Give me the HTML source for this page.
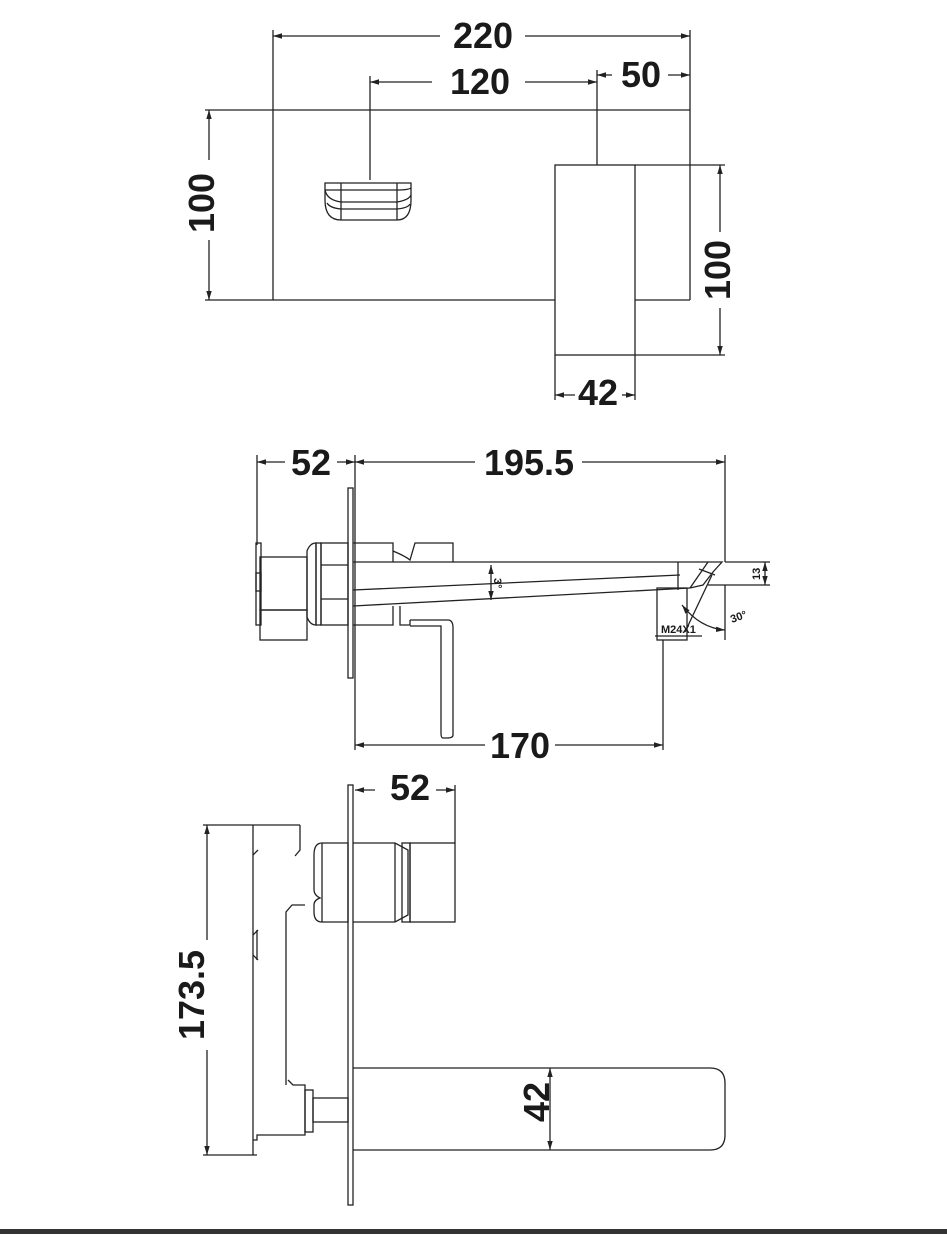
<!DOCTYPE html>
<html><head><meta charset="utf-8"><style>
html,body{margin:0;padding:0;background:#fff;}
svg{display:block;}
text{font-family:"Liberation Sans",sans-serif;font-weight:bold;fill:#1a1a1a;}
</style></head><body>
<svg width="947" height="1237" viewBox="0 0 947 1237" xmlns="http://www.w3.org/2000/svg">
<defs>
<marker id="a" viewBox="0 0 10 10" refX="10" refY="5" markerWidth="9" markerHeight="9" orient="auto-start-reverse" markerUnits="userSpaceOnUse"><path d="M0,2 L10,5 L0,8 z" fill="#222"/></marker>
</defs>
<g stroke="#222" stroke-width="1.3" fill="none">
<!-- TOP VIEW -->
<line x1="273" y1="30" x2="273" y2="300"/>
<line x1="690" y1="30" x2="690" y2="300"/>
<line x1="273" y1="36" x2="440" y2="36" marker-start="url(#a)"/>
<line x1="525" y1="36" x2="690" y2="36" marker-end="url(#a)"/>
<line x1="370" y1="76" x2="370" y2="180"/>
<line x1="597" y1="70" x2="597" y2="165"/>
<line x1="370" y1="82" x2="432" y2="82" marker-start="url(#a)"/>
<line x1="525" y1="82" x2="597" y2="82" marker-end="url(#a)"/>
<line x1="597" y1="75" x2="612" y2="75" marker-start="url(#a)"/>
<line x1="668" y1="75" x2="690" y2="75" marker-end="url(#a)"/>
<line x1="205" y1="110" x2="690" y2="110"/>
<line x1="205" y1="300" x2="555" y2="300"/>
<line x1="635" y1="300" x2="690" y2="300"/>
<line x1="209" y1="110" x2="209" y2="160" marker-start="url(#a)"/>
<line x1="209" y1="240" x2="209" y2="300" marker-end="url(#a)"/>
<!-- handle icon -->
<path d="M325,183 H411 V200 Q411,220 397,220 H341 Q325,220 325,200 Z"/>
<line x1="341" y1="183" x2="341" y2="220"/><line x1="397" y1="183" x2="397" y2="220"/>
<path d="M325,190 Q330,190 341,190 H397 Q408,190 411,188"/>
<path d="M325,190 Q327,200 341,202 H397 Q409,200 411,195"/>
<path d="M327,203 Q330,208 341,209 H397 Q408,208 410,204"/>
<!-- spout -->
<rect x="555" y="165" width="80" height="190"/>
<line x1="635" y1="165" x2="725" y2="165"/>
<line x1="635" y1="355" x2="725" y2="355"/>
<line x1="720" y1="165" x2="720" y2="232" marker-start="url(#a)"/>
<line x1="720" y1="308" x2="720" y2="355" marker-end="url(#a)"/>
<line x1="555" y1="355" x2="555" y2="400"/><line x1="635" y1="355" x2="635" y2="400"/>
<line x1="555" y1="395" x2="575" y2="395" marker-start="url(#a)"/>
<line x1="622" y1="395" x2="635" y2="395" marker-end="url(#a)"/>

<!-- MIDDLE VIEW -->
<line x1="257" y1="455" x2="257" y2="545"/>
<line x1="355" y1="455" x2="355" y2="750"/>
<line x1="725" y1="455" x2="725" y2="562"/>
<line x1="257" y1="462" x2="285" y2="462" marker-start="url(#a)"/>
<line x1="337" y1="462" x2="355" y2="462" marker-end="url(#a)"/>
<line x1="355" y1="462" x2="475" y2="462" marker-start="url(#a)"/>
<line x1="582" y1="462" x2="725" y2="462" marker-end="url(#a)"/>
<rect x="348" y="488" width="5" height="190"/>
<rect x="256" y="543" width="5" height="82"/>
<rect x="260" y="557" width="47" height="53"/>
<rect x="260" y="610" width="47" height="30"/>
<rect x="256" y="573" width="5" height="18"/>
<path d="M307,551 Q310,543 316,543 V625 Q310,625 307,617 Z"/>
<rect x="316" y="543" width="5" height="82"/>
<rect x="321" y="543" width="27" height="82"/>
<line x1="321" y1="565" x2="348" y2="565"/><line x1="321" y1="599" x2="348" y2="599"/>
<path d="M353,543 H393 V562"/>
<path d="M393,551 Q405,556 410,560 L415,543 H453 V562"/>
<path d="M353,625 H393 V606"/>
<!-- spout -->
<line x1="353" y1="562" x2="708" y2="562"/>
<line x1="353" y1="590" x2="680" y2="575"/>
<line x1="353" y1="606" x2="690" y2="588"/>
<path d="M690,588 L708,562 L722,562 L713,572 L703,585 L690,588"/>
<line x1="699" y1="569" x2="715" y2="575"/>
<line x1="678" y1="562" x2="678" y2="590"/>
<rect x="657" y="588" width="30" height="52"/>
<path d="M400,606 V625 H410 V620"/>
<path d="M410,620 H448 Q453,620 453,628 V735 Q453,738 447,738 H443 Q441,738 441,733 V626 H410"/>
<line x1="491" y1="565" x2="491" y2="600" marker-start="url(#a)" marker-end="url(#a)"/>
<line x1="663" y1="640" x2="663" y2="750"/>
<line x1="355" y1="745" x2="485" y2="745" marker-start="url(#a)"/>
<line x1="555" y1="745" x2="663" y2="745" marker-end="url(#a)"/>
<line x1="725" y1="562" x2="770" y2="562"/>
<line x1="708" y1="585" x2="770" y2="585"/>
<line x1="765" y1="562" x2="765" y2="585" marker-start="url(#a)" marker-end="url(#a)"/>
<line x1="725" y1="585" x2="725" y2="640"/>
<line x1="712" y1="575" x2="685" y2="632"/>
<path d="M682,605 Q700,628 725,630" marker-start="url(#a)" marker-end="url(#a)"/>
<line x1="655" y1="636" x2="702" y2="636"/>

<!-- BOTTOM VIEW -->
<line x1="455" y1="785" x2="455" y2="843"/>
<line x1="355" y1="790" x2="375" y2="790" marker-start="url(#a)"/>
<line x1="436" y1="790" x2="455" y2="790" marker-end="url(#a)"/>
<rect x="348" y="785" width="5" height="420"/>
<line x1="203" y1="825" x2="300" y2="825"/>
<path d="M300,825 V850 L295,856"/>
<line x1="253" y1="825" x2="253" y2="1155"/>
<path d="M253,855 L258,850"/><path d="M253,935 L258,930"/><path d="M253,955 L258,960"/>
<line x1="257" y1="930" x2="257" y2="960"/>
<line x1="203" y1="1155" x2="257" y2="1155"/>
<path d="M253,1140 H257 V1135 H305 V1085 H293 L288,1080"/>
<path d="M286,1085 V912 L292,905 H305"/>
<rect x="305" y="1090" width="8" height="42"/>
<rect x="313" y="1098" width="35" height="24"/>
<line x1="207" y1="825" x2="207" y2="940" marker-start="url(#a)"/>
<line x1="207" y1="1050" x2="207" y2="1155" marker-end="url(#a)"/>
<path d="M322,843 H348 V922 H322 Q314,922 314,912 V905 Q314,900 320,898 Q314,895 314,890 V855 Q314,843 322,843 Z"/>
<line x1="322" y1="843" x2="322" y2="922"/>
<path d="M353,843 H395 L408,850 V915 L395,922 H353"/>
<line x1="395" y1="843" x2="395" y2="922"/>
<rect x="402" y="843" width="8" height="79"/>
<rect x="410" y="843" width="45" height="79"/>
<path d="M353,1068 H710 Q725,1068 725,1083 V1135 Q725,1150 710,1150 H353"/>
<line x1="550" y1="1068" x2="550" y2="1150" marker-start="url(#a)" marker-end="url(#a)"/>
</g>
<rect x="0" y="1229" width="947" height="5" fill="#333"/>
<g font-size="36">
<text x="483" y="48" text-anchor="middle">220</text>
<text x="480" y="94" text-anchor="middle">120</text>
<text x="641" y="87" text-anchor="middle">50</text>
<text x="598" y="405" text-anchor="middle">42</text>
<text transform="translate(214,203) rotate(-90)" text-anchor="middle">100</text>
<text transform="translate(730,270) rotate(-90)" text-anchor="middle">100</text>
<text x="311" y="475" text-anchor="middle">52</text>
<text x="529" y="475" text-anchor="middle">195.5</text>
<text x="520" y="758" text-anchor="middle">170</text>
<text x="410" y="800" text-anchor="middle">52</text>
<text transform="translate(204,995) rotate(-90)" text-anchor="middle">173.5</text>
<text transform="translate(549,1102) rotate(-90)" text-anchor="middle">42</text>
</g>
<g font-size="11" style="font-family:'Liberation Serif',serif">
<text transform="translate(494,578) rotate(90)">3°</text>
<text transform="translate(760,580) rotate(-90)">13</text>
<text x="661" y="633">M24X1</text>
<text transform="translate(732,623) rotate(-20)">30°</text>
</g>
</svg>
</body></html>
